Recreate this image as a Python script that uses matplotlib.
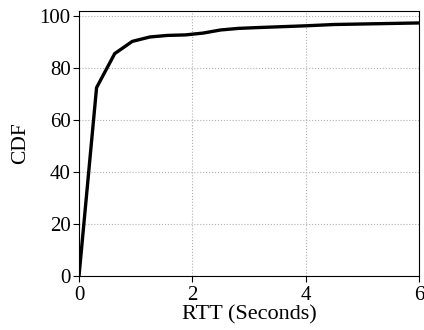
import matplotlib
matplotlib.use("Agg")
import matplotlib.pyplot as plt

rtt = [0, 0.31, 0.63, 0.94, 1.25, 1.56, 1.88, 2.19, 2.5, 2.81, 3.13, 3.5, 4.0, 4.5, 5.0, 5.5, 6.0]
cdf = [0, 72.5, 85.6, 90.3, 92.0, 92.6, 92.8, 93.5, 94.7, 95.3, 95.6, 95.9, 96.3, 96.8, 97.0, 97.2, 97.4]
xticks = [0, 2, 4, 6]
yticks = [0, 20, 40, 60, 80, 100]

plt.rcParams['font.family'] = 'serif'
plt.rcParams['font.serif'] = ['Liberation Serif']
fig = plt.figure(figsize=(4.24, 3.30), dpi=100)
ax = fig.add_axes([79/424, 1-276/330, 340/424, 265/330])
ax.plot(rtt, cdf, color='black', linewidth=2.4)
ax.set_xlim(0, 6)
ax.set_ylim(0, 102)
ax.set_xticks(xticks)
ax.set_yticks(yticks)
ax.grid(True, linestyle=':', color='#b0b0b0', linewidth=0.8)
ax.tick_params(labelsize=15, direction='out', length=4, pad=2)
ax.tick_params(axis='x', pad=3.5)
ax.set_xlabel('RTT (Seconds)', fontsize=16, labelpad=0)
ax.set_ylabel('CDF', fontsize=15.5, labelpad=7)
fig.savefig('out.png', dpi=100)
